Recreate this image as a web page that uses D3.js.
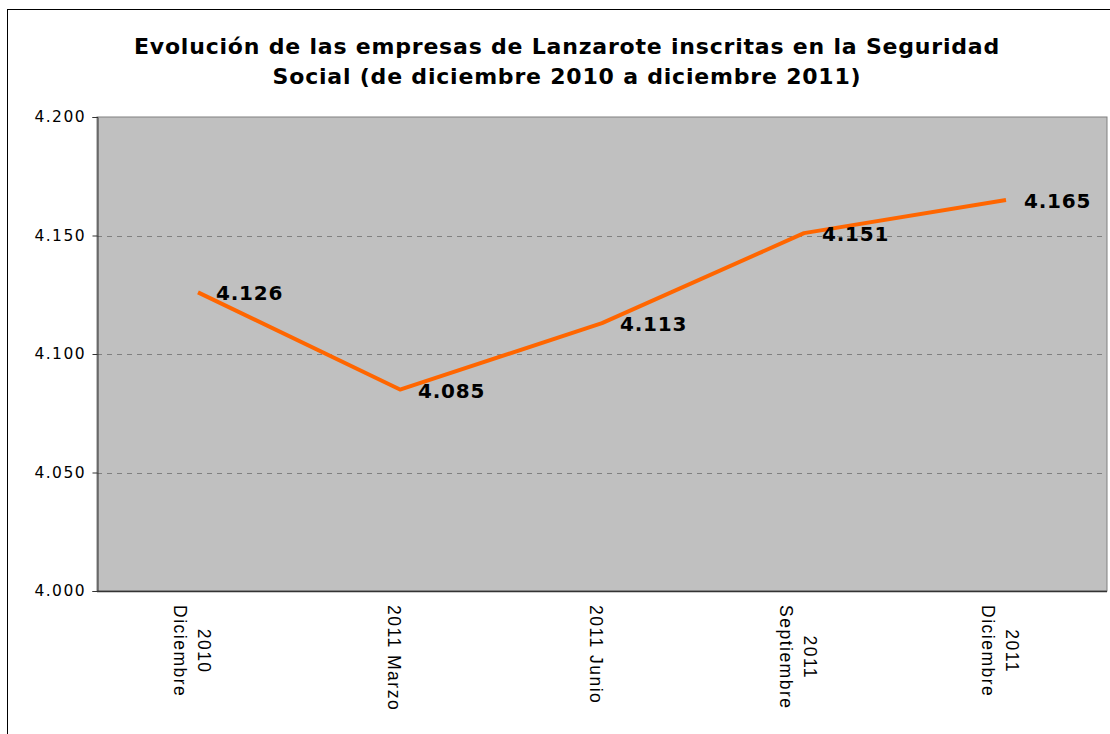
<!DOCTYPE html>
<html><head><meta charset="utf-8">
<script src="https://cdn.jsdelivr.net/npm/d3@7"></script>
<style>body{margin:0;background:#fff}svg{display:block}</style>
</head><body>
<svg id="c" width="1110" height="734"></svg>
<script>
const categories = [["2010","Diciembre"],["2011 Marzo"],["2011 Junio"],["2011","Septiembre"],["2011","Diciembre"]];
const values = [4126, 4085, 4113, 4151, 4165];
const valueLabels = ["4.126","4.085","4.113","4.151","4.165"];
const yTicks = [4000, 4050, 4100, 4150, 4200];
const yTickLabels = ["4.000","4.050","4.100","4.150","4.200"];
const titleLines = ["Evolución de las empresas de Lanzarote inscritas en la Seguridad","Social (de diciembre 2010 a diciembre 2011)"];

const svg = d3.select("#c");
const font = "Verdana, 'DejaVu Sans', sans-serif";
const fontX = "Arial, 'Liberation Sans', sans-serif";
const L = 97, R = 1107, T = 117, B = 591;

// outer chart border
svg.append("rect").attr("x",7.5).attr("y",9.5).attr("width",1120).attr("height",740)
  .attr("fill","#fff").attr("stroke","#000").attr("stroke-width",1);

const x = d3.scaleBand().domain(d3.range(categories.length)).range([L,R]);
const y = d3.scaleLinear().domain([4000,4200]).range([B,T]);

svg.append("rect").attr("x",L).attr("y",T).attr("width",R-L).attr("height",B-T)
  .attr("fill","#C0C0C0").attr("stroke","#808080").attr("stroke-width",1);

// gridlines
svg.append("g").selectAll("line").data(yTicks.filter(v=>v>4000 && v<4200)).join("line")
  .attr("x1",L).attr("x2",R).attr("y1",d=>Math.round(y(d))+0.5).attr("y2",d=>Math.round(y(d))+0.5)
  .attr("stroke","#808080").attr("stroke-dasharray","5,5").attr("stroke-width",1);

// y axis
const yAxis = d3.axisLeft(y).tickValues(yTicks).tickFormat((d,i)=>yTickLabels[i]).tickSize(5).tickPadding(8);
const gy = svg.append("g").attr("transform",`translate(${L+0.5},0)`).call(yAxis);
gy.select(".domain").attr("stroke","#333");
gy.selectAll("line").attr("stroke","#333");
gy.selectAll("text").attr("font-family",font).attr("font-size",15.5).attr("letter-spacing","1.4px").attr("fill","#000")
  .attr("dx","1.4");

// x axis line
svg.append("line").attr("x1",L).attr("x2",R).attr("y1",B+0.5).attr("y2",B+0.5).attr("stroke","#333").attr("stroke-width",1.5);

// x labels rotated
const lh = 24;
categories.forEach((lines,i)=>{
  const cx = x(i) + x.bandwidth()/2 - 6;
  const g = svg.append("g").attr("transform",`translate(${cx},605) rotate(90)`);
  const n = lines.length;
  const texts = lines.map((t,j)=>g.append("text").text(t)
    .attr("font-family",fontX).attr("font-size",17.5).attr("letter-spacing","1.5px").attr("fill","#000")
    .attr("text-anchor","middle")
    .attr("y", (j-(n-1)/2)*lh).attr("dy","0.35em"));
  const maxW = d3.max(texts, t=>t.node().getComputedTextLength());
  texts.forEach(t=>t.attr("x", maxW/2));
});

// line
const line = d3.line().x((d,i)=>x(i)+x.bandwidth()/2).y(d=>y(d));
svg.append("path").datum(values).attr("d",line).attr("fill","none")
  .attr("stroke","#FF6600").attr("stroke-width",4).attr("stroke-linejoin","round");

// value labels
svg.append("g").selectAll("text").data(values).join("text")
  .attr("x",(d,i)=>x(i)+x.bandwidth()/2+18).attr("y",d=>y(d)+1).attr("dy","0.35em")
  .attr("font-family",font).attr("font-weight","bold").attr("font-size",20).attr("letter-spacing","0.8px").attr("fill","#000")
  .text((d,i)=>valueLabels[i]);

// title
svg.append("g").selectAll("text").data(titleLines).join("text")
  .attr("x",567).attr("y",(d,i)=>46+i*30).attr("dy","0.35em").attr("text-anchor","middle")
  .attr("font-family",font).attr("font-weight","bold").attr("font-size",22).attr("letter-spacing","0.8px").attr("fill","#000")
  .text(d=>d);
</script>
</body></html>
